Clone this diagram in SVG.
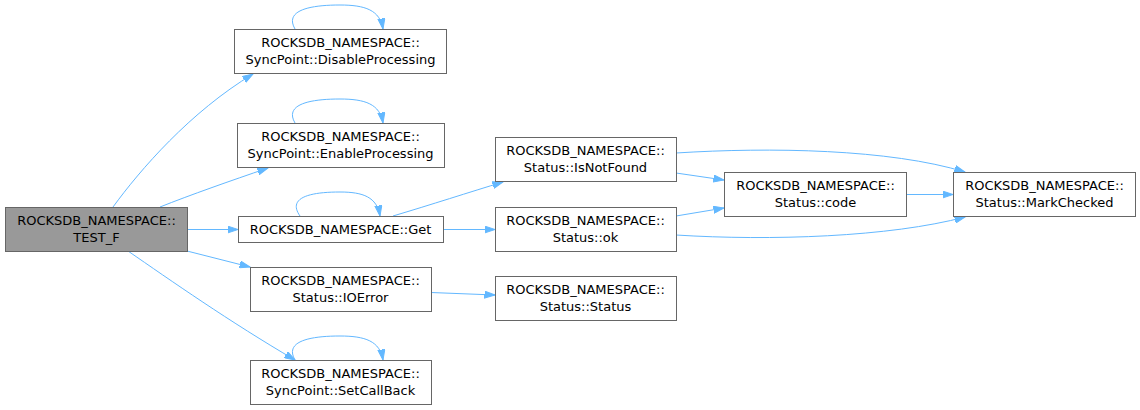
<svg xmlns="http://www.w3.org/2000/svg" width="1140" height="410" viewBox="0 0 1140 410">
<style>
.n rect{fill:#fff;stroke:#666;stroke-width:1}
.n.h rect{fill:#999}
.n text{font-family:"DejaVu Sans",sans-serif;font-size:13px;fill:#000;text-anchor:middle}
.e path{fill:none;stroke:#63b8ff;stroke-width:1;marker-end:url(#a)}
</style>
<defs>
<marker id="a" viewBox="0 0 11 8" refX="10.5" refY="4" markerWidth="11" markerHeight="8" markerUnits="userSpaceOnUse" orient="auto">
<path d="M0,0.5 L10.5,4 L0,7.5 z" fill="#63b8ff" stroke="#63b8ff" stroke-width="1"/>
</marker>
</defs>
<rect width="1140" height="410" fill="#fff"/>
<g class="e" id="edges">
<path d="M113,207 C140,170 190,112 253,74"/>
<path d="M160,207 C190,195 230,181 268,168"/>
<path d="M187,229.5 L238,229.5"/>
<path d="M187,251 L250,267"/>
<path d="M128,251 C170,280 230,322 295,360"/>
<path d="M295,29 C285,12 305,5 340,5 C365,5 380,10 383,29"/>
<path d="M295,123 C285,106 305,99 340,99 C365,99 380,104 383,123"/>
<path d="M300,216 C288,199 306,192 340,192 C363,192 377,197 380,216"/>
<path d="M295,360 C285,343 305,336 340,336 C365,336 380,341 383,360"/>
<path d="M393,216 C430,205 470,192 503,182"/>
<path d="M443,229.5 L495,229.5"/>
<path d="M431,292.5 L495,295"/>
<path d="M676,173 L724,180"/>
<path d="M676,216 L724,208"/>
<path d="M676,153 C770,147 890,149 965,172"/>
<path d="M676,235 C770,241 890,237 965,217"/>
<path d="M906,194.5 L953,194.5"/>
</g>
<g class="n h" id="n1"><rect x="5.5" y="207.5" width="182" height="44"/><text x="96.5" y="225">ROCKSDB_NAMESPACE::</text><text x="96.5" y="242">TEST_F</text></g>
<g class="n" id="n2"><rect x="234.5" y="29.5" width="212" height="44"/><text x="340.5" y="47">ROCKSDB_NAMESPACE::</text><text x="340.5" y="64">SyncPoint::DisableProcessing</text></g>
<g class="n" id="n3"><rect x="237.5" y="123.5" width="207" height="44"/><text x="340.5" y="141">ROCKSDB_NAMESPACE::</text><text x="340.5" y="158">SyncPoint::EnableProcessing</text></g>
<g class="n" id="n4"><rect x="238.5" y="216.5" width="205" height="26"/><text x="340.5" y="233.5">ROCKSDB_NAMESPACE::Get</text></g>
<g class="n" id="n5"><rect x="250.5" y="267.5" width="181" height="44"/><text x="340.5" y="285">ROCKSDB_NAMESPACE::</text><text x="340.5" y="302">Status::IOError</text></g>
<g class="n" id="n6"><rect x="250.5" y="360.5" width="181" height="44"/><text x="340.5" y="378">ROCKSDB_NAMESPACE::</text><text x="340.5" y="395">SyncPoint::SetCallBack</text></g>
<g class="n" id="n7"><rect x="495.5" y="137.5" width="181" height="44"/><text x="585.5" y="155">ROCKSDB_NAMESPACE::</text><text x="585.5" y="172">Status::IsNotFound</text></g>
<g class="n" id="n8"><rect x="495.5" y="207.5" width="181" height="44"/><text x="585.5" y="225">ROCKSDB_NAMESPACE::</text><text x="585.5" y="242">Status::ok</text></g>
<g class="n" id="n9"><rect x="495.5" y="276.5" width="181" height="44"/><text x="585.5" y="294">ROCKSDB_NAMESPACE::</text><text x="585.5" y="311">Status::Status</text></g>
<g class="n" id="n10"><rect x="724.5" y="172.5" width="182" height="44"/><text x="815.5" y="190">ROCKSDB_NAMESPACE::</text><text x="815.5" y="207">Status::code</text></g>
<g class="n" id="n11"><rect x="953.5" y="172.5" width="182" height="44"/><text x="1044.5" y="190">ROCKSDB_NAMESPACE::</text><text x="1044.5" y="207">Status::MarkChecked</text></g>
</svg>
